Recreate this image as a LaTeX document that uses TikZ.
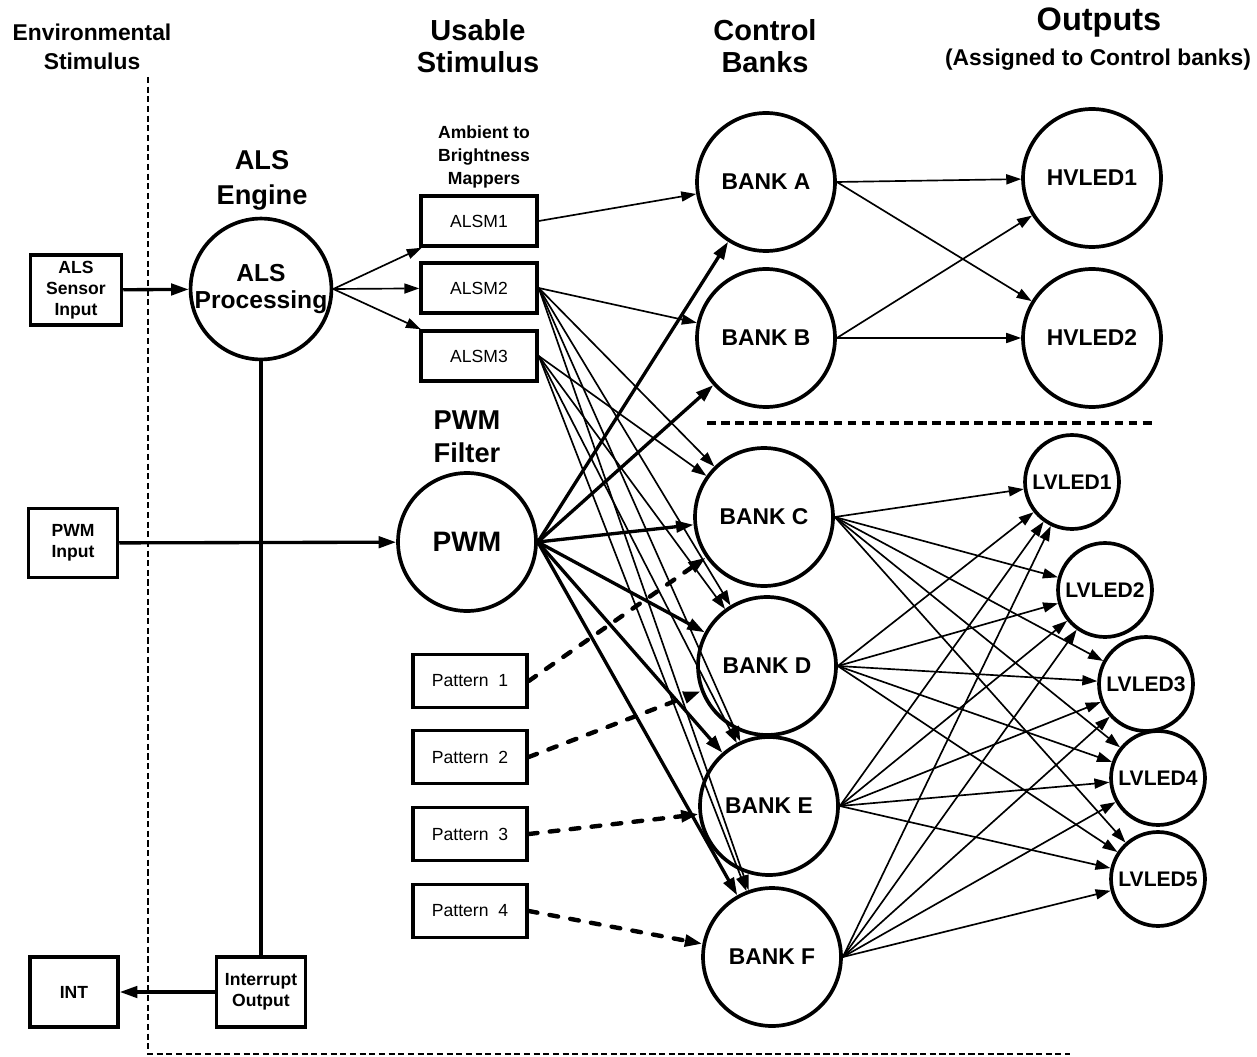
\documentclass[tikz,border=0pt]{standalone}
\usepackage{fontspec}
\setmainfont{Liberation Sans}
\usetikzlibrary{arrows.meta}
\def\fsz#1#2{\fontsize{#1}{#2}\selectfont}

\begin{document}
\begin{tikzpicture}[x=0.02cm, y=-0.02cm,
	inbox/.style={draw, line width=2pt, align=center, inner sep=0pt, font=\bfseries\fsz{10}{12}},
	mapbox/.style={draw, line width=2pt, minimum width=2.32cm, minimum height=1cm, inner sep=0pt, font=\fsz{10}{12}},
	bigc/.style={draw, circle, line width=2.1pt, minimum size=2.76cm, inner sep=0pt, align=center, font=\bfseries\fsz{13}{15}},
	ledc/.style={draw, circle, line width=2.1pt, minimum size=1.88cm, inner sep=0pt, font=\bfseries\fsz{12}{14}},
	head/.style={align=center, font=\bfseries\fsz{16.5}{18}},
	link/.style={line width=0.95pt, -{Triangle[length=8.5pt, width=5.7pt]}},
	feed/.style={line width=1.9pt, -{Triangle[length=10pt, width=6.5pt]}},
	patlink/.style={line width=2.5pt, line cap=round, dash pattern=on 5pt off 7pt, -{Triangle[length=10pt, width=6.5pt]}},
	border/.style={line width=1.1pt, dash pattern=on 3.5pt off 2pt}]
		%%%%% START %%%%%
		\useasboundingbox (0,0) rectangle (1257,1057);
		
		% column titles
		\node[head, font=\bfseries\fsz{13}{16.4}] (envh) at (92,47) {Environmental\\Stimulus};
		\node[head] (useh) at (478,46) {Usable\\Stimulus};
		\node[head] (ctlh) at (765,46) {Control\\Banks};
		\node[head, font=\bfseries\fsz{18.5}{20}] (outh) at (1099,23) {Outputs};
		\node[head, font=\bfseries\fsz{13}{15}] (outsub) at (1098,60) {(Assigned to Control banks)};
		\node[head, font=\bfseries\fsz{15.5}{20}] (alsh) at (262,180) {ALS\\Engine};
		\node[head, font=\bfseries\fsz{15.5}{18.7}] (pwmh) at (467,437) {PWM\\Filter};
		\node[head, font=\bfseries\fsz{10}{13.3}] (maph) at (484,157) {Ambient to\\Brightness\\Mappers};
		
		% dashed borders
		\draw[border] (148,77) -- (148,1054) -- (1070,1054);
		\draw[line width=1.8pt, dash pattern=on 5pt off 3pt] (707,423) -- (1155,423);
		
		% inputs and outputs
		\node[inbox, minimum width=1.82cm, minimum height=1.4cm] (alsin) at (76,290) {ALS\\Sensor\\Input};
		\node[inbox, minimum width=1.78cm, minimum height=1.38cm] (pwmin) at (73,543) {PWM\\Input};
		\node[inbox, minimum width=1.76cm, minimum height=1.4cm] (int) at (74,992) {INT};
		\node[inbox, minimum width=1.78cm, minimum height=1.4cm] (intout) at (261,992) {Interrupt\\Output};
		
		\node[bigc, font=\bfseries\fsz{14}{15}] (alsp) at (261,289) {ALS\\Processing};
		\node[bigc, font=\bfseries\fsz{16}{18}] (pwm) at (467,542) {PWM};
		
		\node[mapbox] (alsm1) at (479,221) {ALSM1};
		\node[mapbox] (alsm2) at (479,288) {ALSM2};
		\node[mapbox] (alsm3) at (479,356) {ALSM3};
		
		\node[mapbox, minimum width=2.28cm, minimum height=1.06cm] (pat1) at (470,681) {Pattern~~1};
		\node[mapbox, minimum width=2.28cm, minimum height=1.06cm] (pat2) at (470,757) {Pattern~~2};
		\node[mapbox, minimum width=2.28cm, minimum height=1.06cm] (pat3) at (470,834) {Pattern~~3};
		\node[mapbox, minimum width=2.28cm, minimum height=1.06cm] (pat4) at (470,911) {Pattern~~4};
		
		% control banks
		\node[bigc] (bankA) at (766,182) {BANK A};
		\node[bigc] (bankB) at (766,338) {BANK B};
		\node[bigc] (bankC) at (764,517) {BANK C};
		\node[bigc] (bankD) at (767,666) {BANK D};
		\node[bigc] (bankE) at (769,806) {BANK E};
		\node[bigc] (bankF) at (772,957) {BANK F};
		
		% outputs
		\node[bigc] (hv1) at (1092,178) {HVLED1};
		\node[bigc] (hv2) at (1092,338) {HVLED2};
		\node[ledc] (lv1) at (1072,482) {LVLED1};
		\node[ledc] (lv2) at (1105,590) {LVLED2};
		\node[ledc] (lv3) at (1146,684) {LVLED3};
		\node[ledc] (lv4) at (1158,778) {LVLED4};
		\node[ledc] (lv5) at (1158,879) {LVLED5};
		
		% stimulus paths
		\draw[feed] (alsin) -- (alsp);
		\draw[feed] (pwmin) -- (pwm);
		\draw[line width=1.9pt] (alsp.south) -- (intout.north);
		\draw[feed] (intout) -- (int);
		
		\draw[link] (alsp.east) -- (alsm1);
		\draw[link] (alsp.east) -- (alsm2);
		\draw[link] (alsp.east) -- (alsm3);
		
		\draw[link] (alsm1.east) -- (bankA);
		\foreach \b in {B,C,D,E,F}
			\draw[link] (alsm2.east) -- (bank\b);
		\foreach \b in {C,D,E,F}
			\draw[link] (alsm3.east) -- (bank\b);
		\foreach \b in {A,B,C,D,E,F}
			\draw[feed] (pwm.east) -- (bank\b);
		
		\draw[patlink] (pat1.east) -- (bankC);
		\draw[patlink] (pat2.east) -- (bankD);
		\draw[patlink] (pat3.east) -- (bankE);
		\draw[patlink] (pat4.east) -- (bankF);
		
		% banks to outputs
		\foreach \b in {A,B}
			\foreach \l in {1,2}
				\draw[link] (bank\b.east) -- (hv\l);
		\foreach \b in {C,D,E,F}
			\foreach \l in {1,...,5}
				\draw[link] (bank\b.east) -- (lv\l);
		
		%%%%% END %%%%%
\end{tikzpicture}
\end{document}
